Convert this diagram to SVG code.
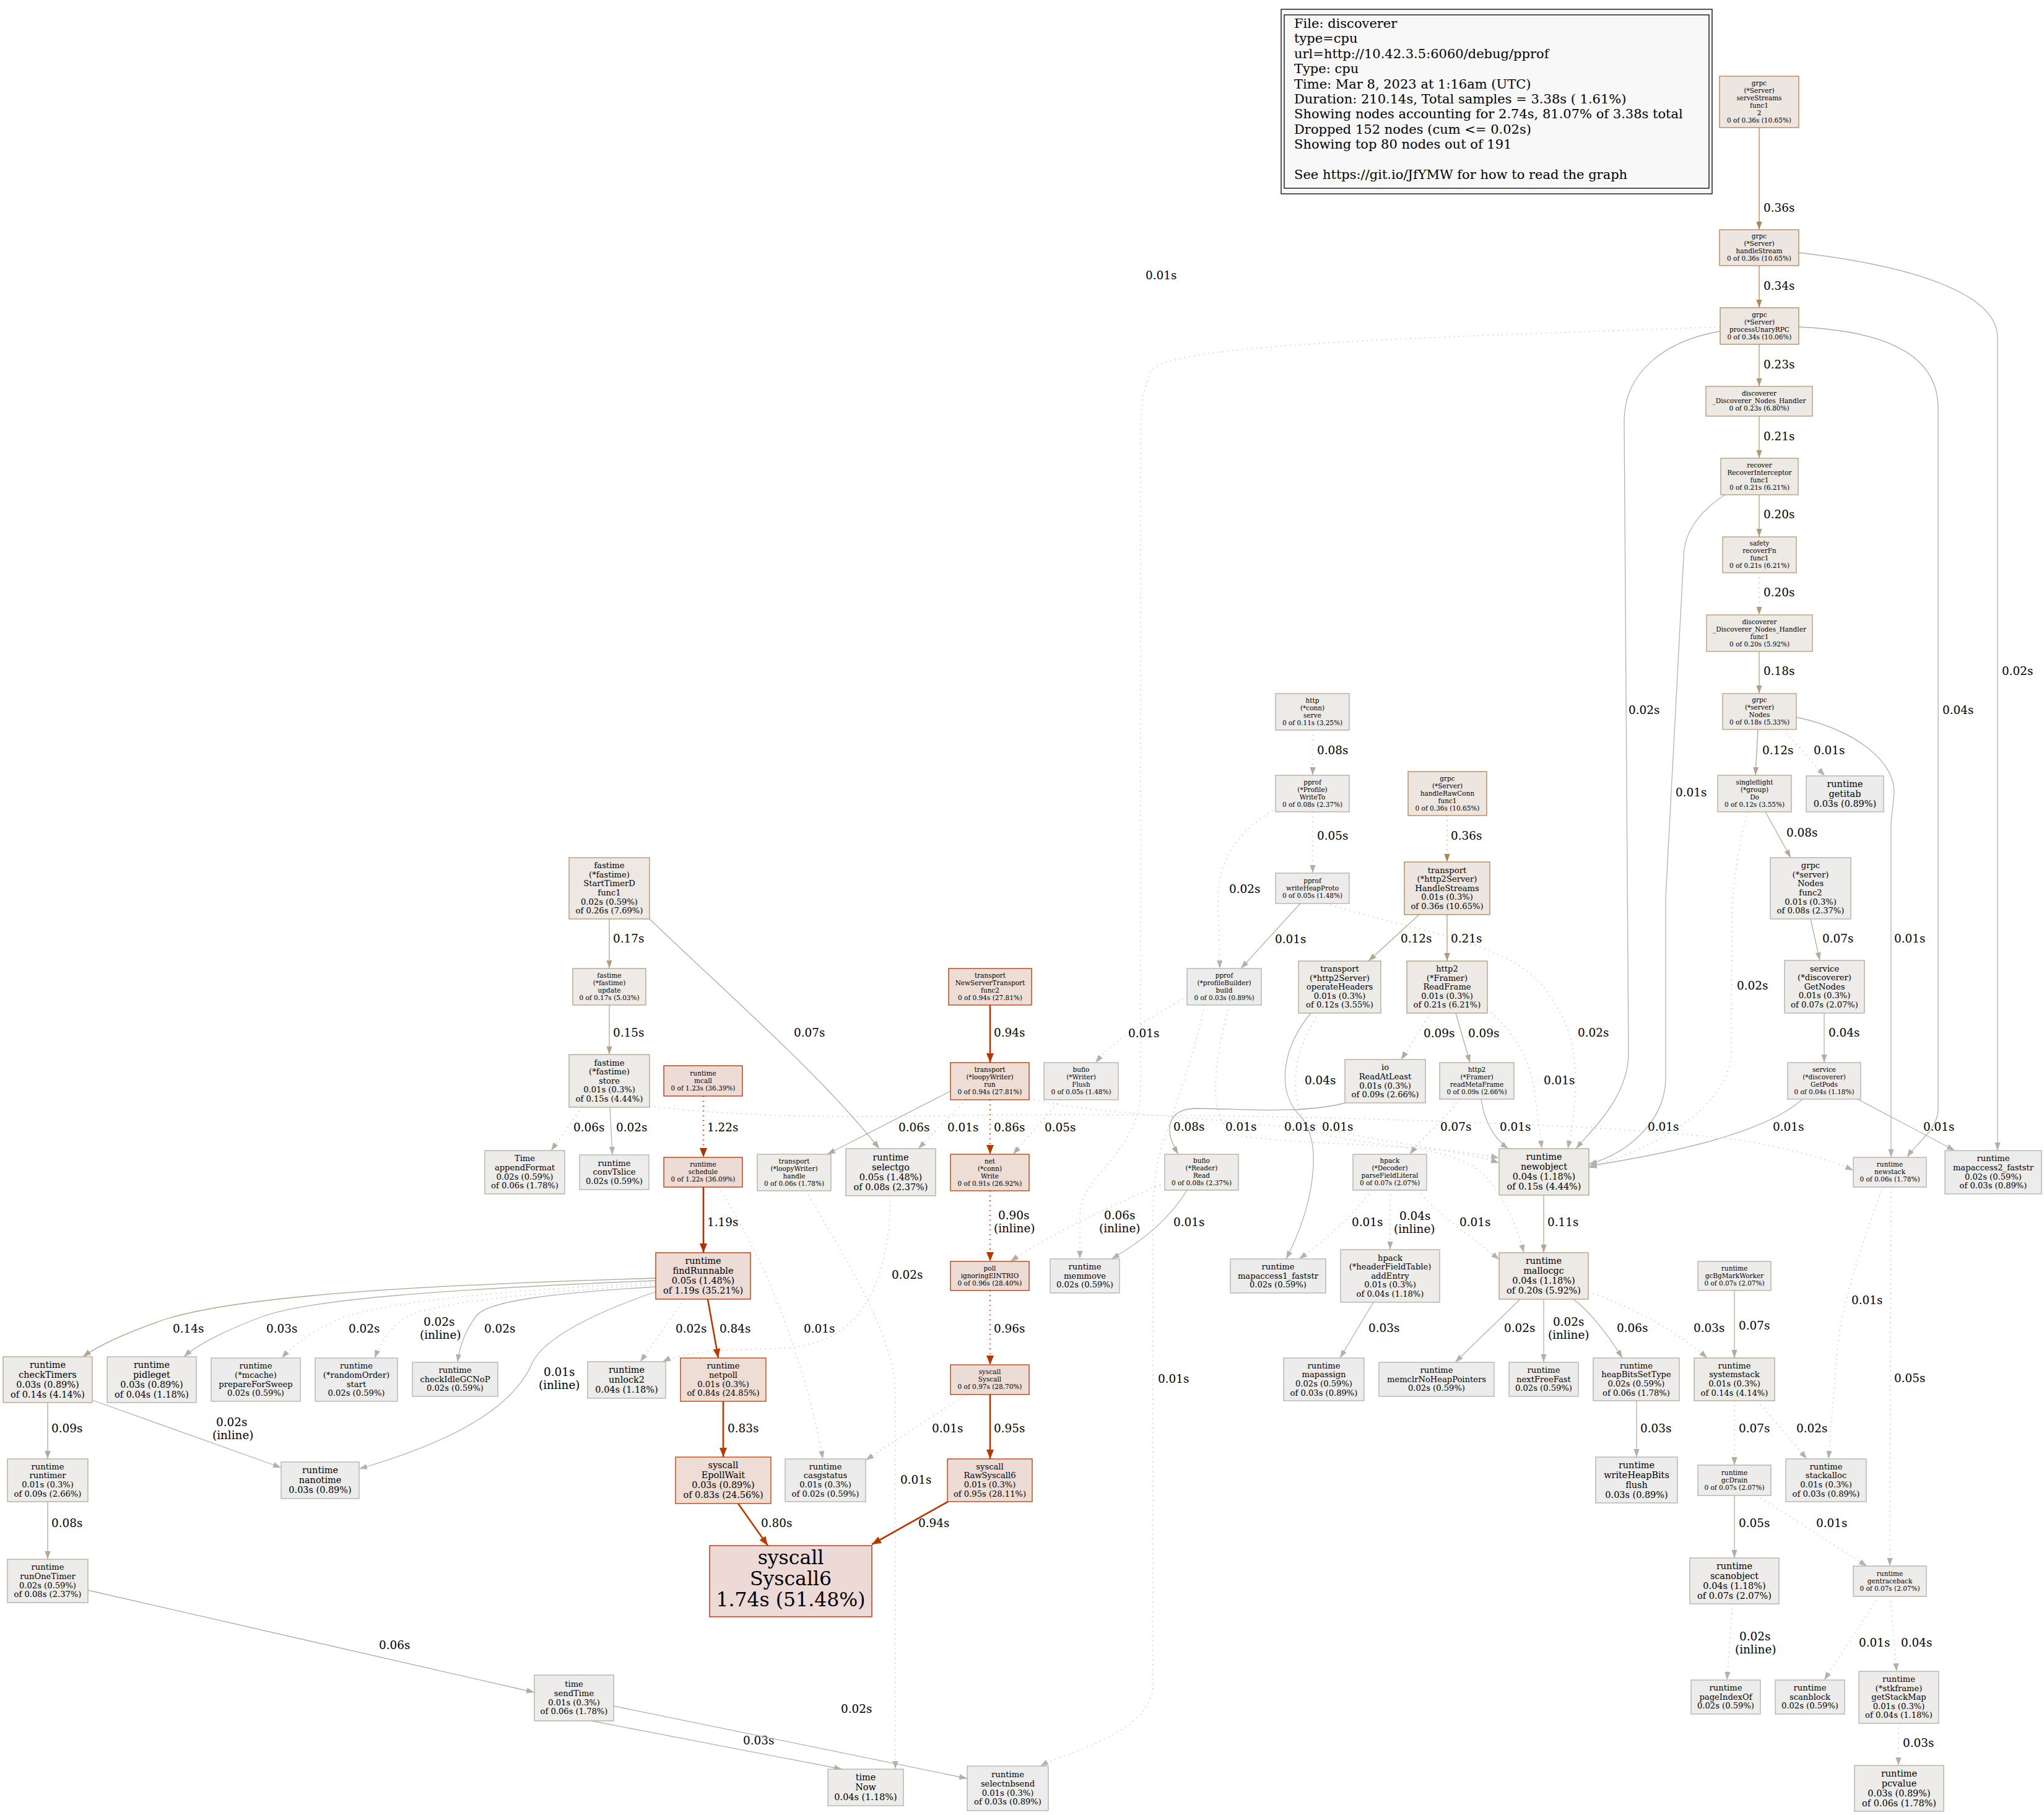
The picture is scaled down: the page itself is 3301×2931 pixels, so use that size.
<svg xmlns="http://www.w3.org/2000/svg" width="3301" height="2931" viewBox="0 0 3301 2931">
<style>
text{font-family:"DejaVu Serif","Liberation Serif",serif;fill:#000}
.nd text{text-anchor:middle}
.nd rect{stroke-width:1.3}
.t0{font-size:10.5px}
.t1{font-size:13.125px}
.t3{font-size:14.44px}
.tb{font-size:31.5px}
.el{font-size:18.375px}
.lg{font-size:21px}
.e path{fill:none;stroke-width:1.3}
.e path.w{stroke-width:2.6}
.e path.d{stroke-dasharray:1.3,6.5}
.k36{fill:#ede6e0;stroke:#b28153}.k34{fill:#ede7e1;stroke:#b28558}.k26{fill:#ede8e4;stroke:#b2926d}
.k23{fill:#ede9e5;stroke:#b29775}.k21{fill:#ede9e5;stroke:#b29a7b}.k20{fill:#edeae6;stroke:#b29b7d}
.k18{fill:#edeae6;stroke:#b29e82}.k17{fill:#edeae7;stroke:#b2a085}.k15{fill:#edebe7;stroke:#b2a28a}
.k14{fill:#edebe8;stroke:#b2a48d}.k12{fill:#edebe8;stroke:#b2a692}.k11{fill:#edebe9;stroke:#b2a895}
.k09{fill:#edecea;stroke:#b2aa9a}.k08{fill:#edecea;stroke:#b2ab9d}.k07{fill:#edecea;stroke:#b2aca0}
.k06{fill:#edeceb;stroke:#b2ada2}.k05{fill:#edeceb;stroke:#b2aea5}.k04{fill:#edeceb;stroke:#b2afa7}
.k03{fill:#edecec;stroke:#b2b0aa}.k02{fill:#edecec;stroke:#b2b1ad}
.k174{fill:#edd9d5;stroke:#b22000}.k123{fill:#eddbd5;stroke:#b22e00}.k122{fill:#eddbd5;stroke:#b22f00}
.k097{fill:#eddcd5;stroke:#b23700}.k096{fill:#eddcd5;stroke:#b23800}.k094{fill:#edddd5;stroke:#b23800}
.k091{fill:#edddd5;stroke:#b23a00}.k084{fill:#edddd5;stroke:#b23c00}.k083{fill:#edddd5;stroke:#b23d00}
</style>
<defs>
<marker id="m81" viewBox="0 0 13 10" refX="13" refY="5" markerWidth="13" markerHeight="10" markerUnits="userSpaceOnUse" orient="auto"><path d="M0,0.4L13,5L0,9.6z" fill="#b28153"/></marker>
<marker id="m85" viewBox="0 0 13 10" refX="13" refY="5" markerWidth="13" markerHeight="10" markerUnits="userSpaceOnUse" orient="auto"><path d="M0,0.4L13,5L0,9.6z" fill="#b28558"/></marker>
<marker id="m97" viewBox="0 0 13 10" refX="13" refY="5" markerWidth="13" markerHeight="10" markerUnits="userSpaceOnUse" orient="auto"><path d="M0,0.4L13,5L0,9.6z" fill="#b29775"/></marker>
<marker id="m9a" viewBox="0 0 13 10" refX="13" refY="5" markerWidth="13" markerHeight="10" markerUnits="userSpaceOnUse" orient="auto"><path d="M0,0.4L13,5L0,9.6z" fill="#b29a7b"/></marker>
<marker id="m9b" viewBox="0 0 13 10" refX="13" refY="5" markerWidth="13" markerHeight="10" markerUnits="userSpaceOnUse" orient="auto"><path d="M0,0.4L13,5L0,9.6z" fill="#b29b7d"/></marker>
<marker id="m9e" viewBox="0 0 13 10" refX="13" refY="5" markerWidth="13" markerHeight="10" markerUnits="userSpaceOnUse" orient="auto"><path d="M0,0.4L13,5L0,9.6z" fill="#b29e82"/></marker>
<marker id="ma0" viewBox="0 0 13 10" refX="13" refY="5" markerWidth="13" markerHeight="10" markerUnits="userSpaceOnUse" orient="auto"><path d="M0,0.4L13,5L0,9.6z" fill="#b2a085"/></marker>
<marker id="ma2" viewBox="0 0 13 10" refX="13" refY="5" markerWidth="13" markerHeight="10" markerUnits="userSpaceOnUse" orient="auto"><path d="M0,0.4L13,5L0,9.6z" fill="#b2a28a"/></marker>
<marker id="ma4" viewBox="0 0 13 10" refX="13" refY="5" markerWidth="13" markerHeight="10" markerUnits="userSpaceOnUse" orient="auto"><path d="M0,0.4L13,5L0,9.6z" fill="#b2a48d"/></marker>
<marker id="ma6" viewBox="0 0 13 10" refX="13" refY="5" markerWidth="13" markerHeight="10" markerUnits="userSpaceOnUse" orient="auto"><path d="M0,0.4L13,5L0,9.6z" fill="#b2a692"/></marker>
<marker id="ma8" viewBox="0 0 13 10" refX="13" refY="5" markerWidth="13" markerHeight="10" markerUnits="userSpaceOnUse" orient="auto"><path d="M0,0.4L13,5L0,9.6z" fill="#b2a895"/></marker>
<marker id="maa" viewBox="0 0 13 10" refX="13" refY="5" markerWidth="13" markerHeight="10" markerUnits="userSpaceOnUse" orient="auto"><path d="M0,0.4L13,5L0,9.6z" fill="#b2aa9a"/></marker>
<marker id="mab" viewBox="0 0 13 10" refX="13" refY="5" markerWidth="13" markerHeight="10" markerUnits="userSpaceOnUse" orient="auto"><path d="M0,0.4L13,5L0,9.6z" fill="#b2ab9d"/></marker>
<marker id="mac" viewBox="0 0 13 10" refX="13" refY="5" markerWidth="13" markerHeight="10" markerUnits="userSpaceOnUse" orient="auto"><path d="M0,0.4L13,5L0,9.6z" fill="#b2aca0"/></marker>
<marker id="mad" viewBox="0 0 13 10" refX="13" refY="5" markerWidth="13" markerHeight="10" markerUnits="userSpaceOnUse" orient="auto"><path d="M0,0.4L13,5L0,9.6z" fill="#b2ada2"/></marker>
<marker id="mae" viewBox="0 0 13 10" refX="13" refY="5" markerWidth="13" markerHeight="10" markerUnits="userSpaceOnUse" orient="auto"><path d="M0,0.4L13,5L0,9.6z" fill="#b2aea5"/></marker>
<marker id="maf" viewBox="0 0 13 10" refX="13" refY="5" markerWidth="13" markerHeight="10" markerUnits="userSpaceOnUse" orient="auto"><path d="M0,0.4L13,5L0,9.6z" fill="#b2afa7"/></marker>
<marker id="mb0" viewBox="0 0 13 10" refX="13" refY="5" markerWidth="13" markerHeight="10" markerUnits="userSpaceOnUse" orient="auto"><path d="M0,0.4L13,5L0,9.6z" fill="#b2b0aa"/></marker>
<marker id="mb1" viewBox="0 0 13 10" refX="13" refY="5" markerWidth="13" markerHeight="10" markerUnits="userSpaceOnUse" orient="auto"><path d="M0,0.4L13,5L0,9.6z" fill="#b2b1ad"/></marker>
<marker id="mb2" viewBox="0 0 13 10" refX="13" refY="5" markerWidth="13" markerHeight="10" markerUnits="userSpaceOnUse" orient="auto"><path d="M0,0.4L13,5L0,9.6z" fill="#b2b2af"/></marker>
<marker id="r2f" viewBox="0 0 15 12" refX="15" refY="6" markerWidth="15" markerHeight="12" markerUnits="userSpaceOnUse" orient="auto"><path d="M0,0L15,6L0,12z" fill="#b22f00"/></marker>
<marker id="r38" viewBox="0 0 15 12" refX="15" refY="6" markerWidth="15" markerHeight="12" markerUnits="userSpaceOnUse" orient="auto"><path d="M0,0L15,6L0,12z" fill="#b23800"/></marker>
<marker id="r3a" viewBox="0 0 15 12" refX="15" refY="6" markerWidth="15" markerHeight="12" markerUnits="userSpaceOnUse" orient="auto"><path d="M0,0L15,6L0,12z" fill="#b23a00"/></marker>
<marker id="r3c" viewBox="0 0 15 12" refX="15" refY="6" markerWidth="15" markerHeight="12" markerUnits="userSpaceOnUse" orient="auto"><path d="M0,0L15,6L0,12z" fill="#b23c00"/></marker>
<marker id="r3d" viewBox="0 0 15 12" refX="15" refY="6" markerWidth="15" markerHeight="12" markerUnits="userSpaceOnUse" orient="auto"><path d="M0,0L15,6L0,12z" fill="#b23d00"/></marker>
<marker id="r3e" viewBox="0 0 15 12" refX="15" refY="6" markerWidth="15" markerHeight="12" markerUnits="userSpaceOnUse" orient="auto"><path d="M0,0L15,6L0,12z" fill="#b23e00"/></marker>
</defs>
<rect x="0" y="0" width="3301" height="2931" fill="#ffffff"/>

<g id="legend">
<rect x="2069" y="15" width="696" height="298" fill="#f8f8f8" stroke="#000" stroke-width="1.3"/>
<rect x="2074" y="24" width="686" height="280" fill="#f8f8f8" stroke="#000" stroke-width="1.3"/>
<text class="lg" x="2090" y="45">File: discoverer</text>
<text class="lg" x="2090" y="69.4">type=cpu</text>
<text class="lg" x="2090" y="93.8">url=http://10.42.3.5:6060/debug/pprof</text>
<text class="lg" x="2090" y="118.2">Type: cpu</text>
<text class="lg" x="2090" y="142.6">Time: Mar 8, 2023 at 1:16am (UTC)</text>
<text class="lg" x="2090" y="167">Duration: 210.14s, Total samples = 3.38s ( 1.61%)</text>
<text class="lg" x="2090" y="191.4">Showing nodes accounting for 2.74s, 81.07% of 3.38s total</text>
<text class="lg" x="2090" y="215.8">Dropped 152 nodes (cum &lt;= 0.02s)</text>
<text class="lg" x="2090" y="240.2">Showing top 80 nodes out of 191</text>
<text class="lg" x="2090" y="289">See https://git.io/JfYMW for how to read the graph</text>
</g>

<g id="edges">
<g class="e" id="e1"><path d="M2841,206L2841,371" stroke="#b28153" marker-end="url(#m81)"/><text class="el" x="2848" y="342">0.36s</text></g>
<g class="e" id="e2"><path d="M2841,429L2841,497" stroke="#b28558" marker-end="url(#m85)"/><text class="el" x="2848" y="468">0.34s</text></g>
<g class="e" id="e3"><path d="M2841,556L2841,624" stroke="#b29775" marker-end="url(#m97)"/><text class="el" x="2848" y="595">0.23s</text></g>
<g class="e" id="e4"><path d="M2841,672L2841,740" stroke="#b29a7b" marker-end="url(#m9a)"/><text class="el" x="2848" y="711">0.21s</text></g>
<g class="e" id="e5"><path d="M2841,799L2841,867" stroke="#b29b7d" marker-end="url(#m9b)"/><text class="el" x="2848" y="837">0.20s</text></g>
<g class="e" id="e6"><path class="d" d="M2841,925L2841,993" stroke="#b29b7d" marker-end="url(#m9b)"/><text class="el" x="2848" y="963">0.20s</text></g>
<g class="e" id="e7"><path d="M2841,1052L2841,1120" stroke="#b29e82" marker-end="url(#m9e)"/><text class="el" x="2848" y="1090">0.18s</text></g>
<g class="e" id="e8"><path d="M2839,1178L2835,1252" stroke="#b2a692" marker-end="url(#ma6)"/><text class="el" x="2846" y="1218">0.12s</text></g>
<g class="e" id="e9"><path class="d" d="M2880,1178L2947,1253" stroke="#b2b2af" marker-end="url(#mb2)"/><text class="el" x="2929" y="1218">0.01s</text></g>
<g class="e" id="e10"><path d="M2851,1311L2892,1385" stroke="#b2ab9d" marker-end="url(#mab)"/><text class="el" x="2885" y="1351">0.08s</text></g>
<g class="e" id="e11"><path d="M2924,1484L2939,1551" stroke="#b2aca0" marker-end="url(#mac)"/><text class="el" x="2943" y="1522">0.07s</text></g>
<g class="e" id="e12"><path d="M2946,1636L2946,1716" stroke="#b2afa7" marker-end="url(#maf)"/><text class="el" x="2953" y="1674">0.04s</text></g>
<g class="e" id="e13"><path d="M2905,408C3110,432 3226,480 3226,545L3226,1858" stroke="#b2b1ad" marker-end="url(#mb1)"/><text class="el" x="3233" y="1090">0.02s</text></g>
<g class="e" id="e14"><path d="M2905,528C3060,535 3130,580 3130,660L3130,1790C3130,1825 3095,1845 3080,1869" stroke="#b2afa7" marker-end="url(#maf)"/><text class="el" x="3137" y="1153">0.04s</text></g>
<g class="e" id="e15"><path d="M2778,535C2690,550 2623,600 2623,680L2630,1700C2630,1770 2575,1820 2545,1855" stroke="#b2b1ad" marker-end="url(#mb1)"/><text class="el" x="2630" y="1153">0.02s</text></g>
<g class="e" id="e16"><path d="M2786,799C2745,825 2719,860 2719,900L2690,1450L2690,1740C2690,1810 2630,1862 2566,1880" stroke="#b2b2af" marker-end="url(#mb2)"/><text class="el" x="2706" y="1286">0.01s</text></g>
<g class="e" id="e17"><path d="M2901,1158C3000,1180 3059,1230 3059,1280L3054,1330L3054,1869" stroke="#b2b2af" marker-end="url(#mb2)"/><text class="el" x="3059" y="1522">0.01s</text></g>
<g class="e" id="e18"><path class="d" d="M2822,1311C2800,1400 2797,1450 2797,1500L2796,1700C2790,1800 2650,1860 2566,1886" stroke="#b2b1ad" marker-end="url(#mb1)"/><text class="el" x="2805" y="1598">0.02s</text></g>
<g class="e" id="e19"><path d="M2911,1775C2850,1830 2700,1862 2566,1883" stroke="#b2b2af" marker-end="url(#mb2)"/><text class="el" x="2863" y="1826">0.01s</text></g>
<g class="e" id="e20"><path d="M3000,1775L3157,1858" stroke="#b2b2af" marker-end="url(#mb2)"/><text class="el" x="3106" y="1826">0.01s</text></g>
<g class="e" id="e21"><path class="d" d="M2778,528C2300,545 1880,555 1858,600C1846,630 1842,660 1842,700L1842,1760C1842,1860 1744,1900 1744,1960L1744,2033" stroke="#b2b2af" marker-end="url(#mb2)"/><text class="el" x="1850" y="451">0.01s</text></g>
<g class="e" id="e22"><path class="d" d="M1945,1623C1930,1700 1900,1780 1880,1840C1866,1880 1862,1920 1862,1980L1862,2720C1862,2800 1720,2830 1680,2852" stroke="#b2b2af" marker-end="url(#mb2)"/><text class="el" x="1870" y="2233">0.01s</text></g>
<g class="e" id="e23"><path class="d" d="M1985,1623C1960,1720 1950,1800 1990,1832C2080,1850 2300,1845 2421,1870" stroke="#b2b2af" marker-end="url(#mb2)"/><text class="el" x="1979" y="1826">0.01s</text></g>
<g class="e" id="e24"><path class="d" d="M1917,1610C1860,1640 1800,1680 1769,1716" stroke="#b2b2af" marker-end="url(#mb2)"/><text class="el" x="1822" y="1675">0.01s</text></g>
<g class="e" id="e25"><path class="d" d="M2062,1305C2000,1340 1967,1390 1967,1450L1970,1564" stroke="#b2b1ad" marker-end="url(#mb1)"/><text class="el" x="1985" y="1442">0.02s</text></g>
<g class="e" id="e26"><path d="M2100,1459L2004,1564" stroke="#b2b2af" marker-end="url(#mb2)"/><text class="el" x="2059" y="1523">0.01s</text></g>
<g class="e" id="e27"><path class="d" d="M2142,1459C2300,1510 2460,1520 2510,1620C2560,1690 2545,1790 2532,1855" stroke="#b2b1ad" marker-end="url(#mb1)"/><text class="el" x="2548" y="1674">0.02s</text></g>
<g class="e" id="e28"><path class="d" d="M2120,1179L2120,1252" stroke="#b2ab9d" marker-end="url(#mab)"/><text class="el" x="2127" y="1218">0.08s</text></g>
<g class="e" id="e29"><path class="d" d="M2120,1311L2120,1410" stroke="#b2aea5" marker-end="url(#mae)"/><text class="el" x="2127" y="1356">0.05s</text></g>
<g class="e" id="e30"><path class="d" d="M2337,1317L2337,1392" stroke="#b28153" marker-end="url(#m81)"/><text class="el" x="2343" y="1356">0.36s</text></g>
<g class="e" id="e31"><path d="M2292,1477L2210,1552" stroke="#b2a692" marker-end="url(#ma6)"/><text class="el" x="2262" y="1522">0.12s</text></g>
<g class="e" id="e32"><path d="M2337,1477L2337,1552" stroke="#b29a7b" marker-end="url(#m9a)"/><text class="el" x="2343" y="1522">0.21s</text></g>
<g class="e" id="e33"><path class="d" d="M2310,1636L2263,1711" stroke="#b2aa9a" marker-end="url(#maa)"/><text class="el" x="2299" y="1675">0.09s</text></g>
<g class="e" id="e34"><path d="M2351,1636L2374,1716" stroke="#b2aa9a" marker-end="url(#maa)"/><text class="el" x="2371" y="1675">0.09s</text></g>
<g class="e" id="e35"><path class="d" d="M2402,1630C2445,1665 2470,1710 2478,1760L2490,1855" stroke="#b2b2af" marker-end="url(#mb2)"/><text class="el" x="2493" y="1751">0.01s</text></g>
<g class="e" id="e36"><path d="M2173,1781C2100,1800 2000,1790 1930,1790C1880,1792 1882,1830 1903,1864" stroke="#b2ab9d" marker-end="url(#mab)"/><text class="el" x="1895" y="1826">0.08s</text></g>
<g class="e" id="e37"><path class="d" d="M2357,1775C2330,1810 2295,1840 2277,1864" stroke="#b2aca0" marker-end="url(#mac)"/><text class="el" x="2326" y="1826">0.07s</text></g>
<g class="e" id="e38"><path d="M2392,1775C2398,1815 2415,1840 2436,1855" stroke="#b2b2af" marker-end="url(#mb2)"/><text class="el" x="2422" y="1826">0.01s</text></g>
<g class="e" id="e39"><path class="d" d="M2130,1636C2092,1690 2080,1760 2105,1805C2150,1840 2330,1848 2421,1878" stroke="#b2afa7" marker-end="url(#maf)"/><text class="el" x="2107" y="1751">0.04s</text></g>
<g class="e" id="e40"><path d="M2117,1636C2072,1690 2060,1760 2098,1800C2140,1845 2120,1950 2077,2033" stroke="#b2b2af" marker-end="url(#mb2)"/><text class="el" x="2135" y="1826">0.01s</text></g>
<g class="e" id="e41"><path class="d" d="M1662,1774C1780,1805 2050,1805 2150,1835C2250,1855 2350,1850 2400,1900C2430,1935 2450,1980 2461,2023" stroke="#b2b2af" marker-end="url(#mb2)"/><text class="el" x="2074" y="1826">0.01s</text></g>
<g class="e" id="e42"><path class="d" d="M2215,1922C2180,1970 2130,2010 2098,2033" stroke="#b2b2af" marker-end="url(#mb2)"/><text class="el" x="2183" y="1980">0.01s</text></g>
<g class="e" id="e43"><path class="d" d="M2245,1922L2245,2018" stroke="#b2afa7" marker-end="url(#maf)"/><text class="el" x="2260" y="1970">0.04s</text><text class="el" x="2251" y="1991">(inline)</text></g>
<g class="e" id="e44"><path class="d" d="M2290,1922C2320,1960 2380,2000 2421,2034" stroke="#b2b2af" marker-end="url(#mb2)"/><text class="el" x="2357" y="1980">0.01s</text></g>
<g class="e" id="e45"><path d="M2493,1930L2493,2023" stroke="#b2a895" marker-end="url(#ma8)"/><text class="el" x="2499" y="1980">0.11s</text></g>
<g class="e" id="e46"><path d="M2218,2103L2164,2193" stroke="#b2b0aa" marker-end="url(#mb0)"/><text class="el" x="2210" y="2151">0.03s</text></g>
<g class="e" id="e47"><path d="M2455,2098L2350,2200" stroke="#b2b1ad" marker-end="url(#mb1)"/><text class="el" x="2429" y="2151">0.02s</text></g>
<g class="e" id="e48"><path d="M2493,2098L2493,2200" stroke="#b2b1ad" marker-end="url(#mb1)"/><text class="el" x="2508" y="2141">0.02s</text><text class="el" x="2500" y="2162">(inline)</text></g>
<g class="e" id="e49"><path d="M2541,2098C2570,2120 2600,2160 2620,2193" stroke="#b2ada2" marker-end="url(#mad)"/><text class="el" x="2611" y="2151">0.06s</text></g>
<g class="e" id="e50"><path class="d" d="M2565,2086C2650,2115 2720,2160 2757,2193" stroke="#b2b0aa" marker-end="url(#mb0)"/><text class="el" x="2735" y="2151">0.03s</text></g>
<g class="e" id="e51"><path d="M2801,2084L2801,2193" stroke="#b2aca0" marker-end="url(#mac)"/><text class="el" x="2808" y="2147">0.07s</text></g>
<g class="e" id="e52"><path d="M2643,2262L2643,2353" stroke="#b2b0aa" marker-end="url(#mb0)"/><text class="el" x="2649" y="2313">0.03s</text></g>
<g class="e" id="e53"><path class="d" d="M2801,2262L2801,2366" stroke="#b2aca0" marker-end="url(#mac)"/><text class="el" x="2808" y="2313">0.07s</text></g>
<g class="e" id="e54"><path class="d" d="M2838,2262L2918,2356" stroke="#b2b1ad" marker-end="url(#mb1)"/><text class="el" x="2901" y="2313">0.02s</text></g>
<g class="e" id="e55"><path class="d" d="M3041,1917C3010,2000 2975,2100 2967,2180L2953,2356" stroke="#b2b2af" marker-end="url(#mb2)"/><text class="el" x="2990" y="2106">0.01s</text></g>
<g class="e" id="e56"><path class="d" d="M3054,1917L3052,2529" stroke="#b2aea5" marker-end="url(#mae)"/><text class="el" x="3059" y="2232">0.05s</text></g>
<g class="e" id="e57"><path d="M2801,2415L2801,2516" stroke="#b2aea5" marker-end="url(#mae)"/><text class="el" x="2808" y="2466">0.05s</text></g>
<g class="e" id="e58"><path class="d" d="M2837,2415L3015,2529" stroke="#b2b2af" marker-end="url(#mb2)"/><text class="el" x="2933" y="2466">0.01s</text></g>
<g class="e" id="e59"><path class="d" d="M2798,2590L2789,2713" stroke="#b2b1ad" marker-end="url(#mb1)"/><text class="el" x="2809" y="2649">0.02s</text><text class="el" x="2802" y="2670">(inline)</text></g>
<g class="e" id="e60"><path class="d" d="M3035,2578L2946,2713" stroke="#b2b2af" marker-end="url(#mb2)"/><text class="el" x="3002" y="2659">0.01s</text></g>
<g class="e" id="e61"><path class="d" d="M3053,2578L3063,2699" stroke="#b2afa7" marker-end="url(#maf)"/><text class="el" x="3070" y="2659">0.04s</text></g>
<g class="e" id="e62"><path class="d" d="M3066,2783L3066,2851" stroke="#b2b0aa" marker-end="url(#mb0)"/><text class="el" x="3073" y="2821">0.03s</text></g>
<g class="e" id="e63"><path d="M984,1484L984,1564" stroke="#b2a085" marker-end="url(#ma0)"/><text class="el" x="990" y="1522">0.17s</text></g>
<g class="e" id="e64"><path d="M984,1623L984,1703" stroke="#b2a28a" marker-end="url(#ma2)"/><text class="el" x="990" y="1674">0.15s</text></g>
<g class="e" id="e65"><path d="M1049,1484C1180,1610 1330,1740 1420,1855" stroke="#b2aca0" marker-end="url(#mac)"/><text class="el" x="1282" y="1674">0.07s</text></g>
<g class="e" id="e66"><path class="d" d="M940,1788L890,1858" stroke="#b2ada2" marker-end="url(#mad)"/><text class="el" x="926" y="1827">0.06s</text></g>
<g class="e" id="e67"><path d="M985,1788L989,1865" stroke="#b2b1ad" marker-end="url(#mb1)"/><text class="el" x="995" y="1827">0.02s</text></g>
<g class="e" id="e68"><path class="d w" d="M1136,1770L1136,1869" stroke="#b22f00" marker-end="url(#r2f)"/><text class="el" x="1142" y="1827">1.22s</text></g>
<g class="e" id="e69"><path class="w" d="M1136,1917L1136,2023" stroke="#b22f00" marker-end="url(#r2f)"/><text class="el" x="1142" y="1980">1.19s</text></g>
<g class="e" id="e70"><path class="w" d="M1599,1623L1599,1716" stroke="#b23800" marker-end="url(#r38)"/><text class="el" x="1605" y="1674">0.94s</text></g>
<g class="e" id="e71"><path d="M1535,1762L1336,1864" stroke="#b2ada2" marker-end="url(#mad)"/><text class="el" x="1451" y="1827">0.06s</text></g>
<g class="e" id="e72"><path class="d" d="M1560,1776L1483,1855" stroke="#b2b2af" marker-end="url(#mb2)"/><text class="el" x="1530" y="1827">0.01s</text></g>
<g class="e" id="e73"><path class="d w" d="M1599,1776L1599,1864" stroke="#b23c00" marker-end="url(#r3c)"/><text class="el" x="1605" y="1827">0.86s</text></g>
<g class="e" id="e74"><path class="d" d="M1712,1776L1636,1864" stroke="#b2aea5" marker-end="url(#mae)"/><text class="el" x="1687" y="1827">0.05s</text></g>
<g class="e" id="e75"><path class="d w" d="M1599,1923L1599,2037" stroke="#b23a00" marker-end="url(#r3a)"/><text class="el" x="1612" y="1969">0.90s</text><text class="el" x="1605" y="1990">(inline)</text></g>
<g class="e" id="e76"><path class="d" d="M1881,1910C1800,1945 1700,1990 1632,2037" stroke="#b2ada2" marker-end="url(#mad)"/><text class="el" x="1783" y="1969">0.06s</text><text class="el" x="1775" y="1990">(inline)</text></g>
<g class="e" id="e77"><path d="M1917,1922C1885,1975 1835,2010 1795,2033" stroke="#b2b2af" marker-end="url(#mb2)"/><text class="el" x="1895" y="1980">0.01s</text></g>
<g class="e" id="e78"><path class="d w" d="M1599,2084L1599,2204" stroke="#b23800" marker-end="url(#r38)"/><text class="el" x="1605" y="2152">0.96s</text></g>
<g class="e" id="e79"><path class="w" d="M1599,2252L1599,2356" stroke="#b23800" marker-end="url(#r38)"/><text class="el" x="1605" y="2313">0.95s</text></g>
<g class="e" id="e80"><path class="d" d="M1560,2252L1398,2358" stroke="#b2b2af" marker-end="url(#mb2)"/><text class="el" x="1505" y="2313">0.01s</text></g>
<g class="e" id="e81"><path class="w" d="M1531,2425L1408,2494" stroke="#b23800" marker-end="url(#r38)"/><text class="el" x="1483" y="2466">0.94s</text></g>
<g class="e" id="e82"><path class="d" d="M1160,1917C1240,2040 1300,2200 1329,2356" stroke="#b2b2af" marker-end="url(#mb2)"/><text class="el" x="1298" y="2152">0.01s</text></g>
<g class="e" id="e83"><path class="d" d="M1438,1931C1438,2000 1425,2060 1400,2102C1370,2150 1330,2175 1250,2178C1150,2180 1100,2185 1070,2199" stroke="#b2b1ad" marker-end="url(#mb1)"/><text class="el" x="1440" y="2065">0.02s</text></g>
<g class="e" id="e84"><path class="d" d="M1302,1923C1350,2010 1446,2150 1446,2250L1446,2857" stroke="#b2b2af" marker-end="url(#mb2)"/><text class="el" x="1454" y="2396">0.01s</text></g>
<g class="e" id="e85"><path d="M1059,2064C700,2075 400,2090 268,2130C210,2150 160,2172 134,2191" stroke="#b2a48d" marker-end="url(#ma4)"/><text class="el" x="279" y="2152">0.14s</text></g>
<g class="e" id="e86"><path d="M1059,2068C720,2082 500,2098 424,2126C370,2146 320,2170 297,2191" stroke="#b2b0aa" marker-end="url(#mb0)"/><text class="el" x="430" y="2152">0.03s</text></g>
<g class="e" id="e87"><path class="d" d="M1059,2071C800,2085 650,2100 560,2125C510,2145 475,2170 455,2193" stroke="#b2b1ad" marker-end="url(#mb1)"/><text class="el" x="563" y="2152">0.02s</text></g>
<g class="e" id="e88"><path class="d" d="M1059,2074C880,2088 700,2100 650,2130C625,2150 612,2175 605,2193" stroke="#b2b1ad" marker-end="url(#mb1)"/><text class="el" x="684" y="2141">0.02s</text><text class="el" x="678" y="2162">(inline)</text></g>
<g class="e" id="e89"><path d="M1059,2078C900,2088 790,2100 770,2124C750,2150 742,2175 739,2200" stroke="#b2b1ad" marker-end="url(#mb1)"/><text class="el" x="782" y="2152">0.02s</text></g>
<g class="e" id="e90"><path d="M1059,2086C960,2120 880,2160 860,2200C835,2260 760,2320 580,2372" stroke="#b2b2af" marker-end="url(#mb2)"/><text class="el" x="878" y="2222">0.01s</text><text class="el" x="870" y="2243">(inline)</text></g>
<g class="e" id="e91"><path class="d" d="M1105,2098L1034,2199" stroke="#b2b1ad" marker-end="url(#mb1)"/><text class="el" x="1091" y="2152">0.02s</text></g>
<g class="e" id="e92"><path class="w" d="M1143,2098L1160,2193" stroke="#b23c00" marker-end="url(#r3c)"/><text class="el" x="1162" y="2152">0.84s</text></g>
<g class="e" id="e93"><path class="w" d="M1168,2263L1168,2353" stroke="#b23d00" marker-end="url(#r3d)"/><text class="el" x="1175" y="2313">0.83s</text></g>
<g class="e" id="e94"><path class="w" d="M1192,2428L1240,2496" stroke="#b23e00" marker-end="url(#r3e)"/><text class="el" x="1229" y="2466">0.80s</text></g>
<g class="e" id="e95"><path d="M77,2265L77,2356" stroke="#b2aa9a" marker-end="url(#maa)"/><text class="el" x="83" y="2313">0.09s</text></g>
<g class="e" id="e96"><path d="M149,2261L454,2370" stroke="#b2b1ad" marker-end="url(#mb1)"/><text class="el" x="349" y="2303">0.02s</text><text class="el" x="343" y="2324">(inline)</text></g>
<g class="e" id="e97"><path d="M77,2425L77,2518" stroke="#b2ab9d" marker-end="url(#mab)"/><text class="el" x="83" y="2466">0.08s</text></g>
<g class="e" id="e98"><path d="M142,2568L863,2733" stroke="#b2ada2" marker-end="url(#mad)"/><text class="el" x="612" y="2663">0.06s</text></g>
<g class="e" id="e99"><path d="M955,2779L1360,2857" stroke="#b2b0aa" marker-end="url(#mb0)"/><text class="el" x="1200" y="2817">0.03s</text></g>
<g class="e" id="e100"><path d="M991,2755L1562,2872" stroke="#b2b1ad" marker-end="url(#mb1)"/><text class="el" x="1358" y="2766">0.02s</text></g>
<g class="e" id="e102"><path class="d" d="M1049,1786C1250,1812 1500,1800 1700,1800C2100,1800 2600,1815 2800,1840C2900,1855 2960,1875 2993,1890" stroke="#b2b2af" marker-end="url(#mb2)"/><text class="el" x="2661" y="1826">0.01s</text></g>
</g>

<g id="nodes">
<g class="nd" id="n-serveStreams"><rect class="k36" x="2777" y="123" width="128" height="83"/><text class="t0" y="137.9"><tspan x="2841">grpc</tspan><tspan x="2841" dy="12">(*Server)</tspan><tspan x="2841" dy="12">serveStreams</tspan><tspan x="2841" dy="12">func1</tspan><tspan x="2841" dy="12">2</tspan><tspan x="2841" dy="12">0 of 0.36s (10.65%)</tspan></text></g>
<g class="nd" id="n-handleStream"><rect class="k36" x="2777" y="371" width="128" height="58"/><text class="t0" y="385.4"><tspan x="2841">grpc</tspan><tspan x="2841" dy="12">(*Server)</tspan><tspan x="2841" dy="12">handleStream</tspan><tspan x="2841" dy="12">0 of 0.36s (10.65%)</tspan></text></g>
<g class="nd" id="n-processUnaryRPC"><rect class="k34" x="2778" y="497" width="127" height="59"/><text class="t0" y="511.9"><tspan x="2841.5">grpc</tspan><tspan x="2841.5" dy="12">(*Server)</tspan><tspan x="2841.5" dy="12">processUnaryRPC</tspan><tspan x="2841.5" dy="12">0 of 0.34s (10.06%)</tspan></text></g>
<g class="nd" id="n-DNH"><rect class="k23" x="2755" y="624" width="172" height="48"/><text class="t0" y="639.4"><tspan x="2841">discoverer</tspan><tspan x="2841" dy="12">_Discoverer_Nodes_Handler</tspan><tspan x="2841" dy="12">0 of 0.23s (6.80%)</tspan></text></g>
<g class="nd" id="n-recover"><rect class="k21" x="2779" y="740" width="125" height="59"/><text class="t0" y="754.9"><tspan x="2841.5">recover</tspan><tspan x="2841.5" dy="12">RecoverInterceptor</tspan><tspan x="2841.5" dy="12">func1</tspan><tspan x="2841.5" dy="12">0 of 0.21s (6.21%)</tspan></text></g>
<g class="nd" id="n-safety"><rect class="k21" x="2782" y="867" width="119" height="58"/><text class="t0" y="881.4"><tspan x="2841.5">safety</tspan><tspan x="2841.5" dy="12">recoverFn</tspan><tspan x="2841.5" dy="12">func1</tspan><tspan x="2841.5" dy="12">0 of 0.21s (6.21%)</tspan></text></g>
<g class="nd" id="n-DNHfunc1"><rect class="k20" x="2756" y="993" width="171" height="59"/><text class="t0" y="1007.9"><tspan x="2841.5">discoverer</tspan><tspan x="2841.5" dy="12">_Discoverer_Nodes_Handler</tspan><tspan x="2841.5" dy="12">func1</tspan><tspan x="2841.5" dy="12">0 of 0.20s (5.92%)</tspan></text></g>
<g class="nd" id="n-Nodes"><rect class="k18" x="2782" y="1120" width="119" height="58"/><text class="t0" y="1134.4"><tspan x="2841.5">grpc</tspan><tspan x="2841.5" dy="12">(*server)</tspan><tspan x="2841.5" dy="12">Nodes</tspan><tspan x="2841.5" dy="12">0 of 0.18s (5.33%)</tspan></text></g>
<g class="nd" id="n-Do"><rect class="k12" x="2774" y="1252" width="119" height="59"/><text class="t0" y="1266.9"><tspan x="2833.5">singleflight</tspan><tspan x="2833.5" dy="12">(*group)</tspan><tspan x="2833.5" dy="12">Do</tspan><tspan x="2833.5" dy="12">0 of 0.12s (3.55%)</tspan></text></g>
<g class="nd" id="n-getitab"><rect class="k03" x="2917" y="1253" width="125" height="58"/><text class="t3" y="1270.5"><tspan x="2979.5">runtime</tspan><tspan x="2979.5" dy="16.1">getitab</tspan><tspan x="2979.5" dy="16.1">0.03s (0.89%)</tspan></text></g>
<g class="nd" id="n-Nodesfunc2"><rect class="k08" x="2859" y="1385" width="130" height="99"/><text class="t1" y="1402.2"><tspan x="2924">grpc</tspan><tspan x="2924" dy="14.6">(*server)</tspan><tspan x="2924" dy="14.6">Nodes</tspan><tspan x="2924" dy="14.6">func2</tspan><tspan x="2924" dy="14.6">0.01s (0.3%)</tspan><tspan x="2924" dy="14.6">of 0.08s (2.37%)</tspan></text></g>
<g class="nd" id="n-GetNodes"><rect class="k07" x="2882" y="1551" width="129" height="85"/><text class="t1" y="1568.5"><tspan x="2946.5">service</tspan><tspan x="2946.5" dy="14.6">(*discoverer)</tspan><tspan x="2946.5" dy="14.6">GetNodes</tspan><tspan x="2946.5" dy="14.6">0.01s (0.3%)</tspan><tspan x="2946.5" dy="14.6">of 0.07s (2.07%)</tspan></text></g>
<g class="nd" id="n-GetPods"><rect class="k04" x="2887" y="1716" width="118" height="59"/><text class="t0" y="1730.9"><tspan x="2946">service</tspan><tspan x="2946" dy="12">(*discoverer)</tspan><tspan x="2946" dy="12">GetPods</tspan><tspan x="2946" dy="12">0 of 0.04s (1.18%)</tspan></text></g>
<g class="nd" id="n-newobject"><rect class="k15" x="2421" y="1855" width="145" height="75"/><text class="t3" y="1873"><tspan x="2493.5">runtime</tspan><tspan x="2493.5" dy="16.1">newobject</tspan><tspan x="2493.5" dy="16.1">0.04s (1.18%)</tspan><tspan x="2493.5" dy="16.1">of 0.15s (4.44%)</tspan></text></g>
<g class="nd" id="n-newstack"><rect class="k06" x="2993" y="1869" width="118" height="48"/><text class="t0" y="1884.4"><tspan x="3052">runtime</tspan><tspan x="3052" dy="12">newstack</tspan><tspan x="3052" dy="12">0 of 0.06s (1.78%)</tspan></text></g>
<g class="nd" id="n-mapaccess2"><rect class="k03" x="3141" y="1858" width="156" height="70"/><text class="t1" y="1875.3"><tspan x="3219">runtime</tspan><tspan x="3219" dy="14.6">mapaccess2_faststr</tspan><tspan x="3219" dy="14.6">0.02s (0.59%)</tspan><tspan x="3219" dy="14.6">of 0.03s (0.89%)</tspan></text></g>
<g class="nd" id="n-httpserve"><rect class="k11" x="2060" y="1120" width="119" height="59"/><text class="t0" y="1134.9"><tspan x="2119.5">http</tspan><tspan x="2119.5" dy="12">(*conn)</tspan><tspan x="2119.5" dy="12">serve</tspan><tspan x="2119.5" dy="12">0 of 0.11s (3.25%)</tspan></text></g>
<g class="nd" id="n-WriteTo"><rect class="k08" x="2060" y="1252" width="119" height="59"/><text class="t0" y="1266.9"><tspan x="2119.5">pprof</tspan><tspan x="2119.5" dy="12">(*Profile)</tspan><tspan x="2119.5" dy="12">WriteTo</tspan><tspan x="2119.5" dy="12">0 of 0.08s (2.37%)</tspan></text></g>
<g class="nd" id="n-writeHeapProto"><rect class="k05" x="2060" y="1410" width="119" height="49"/><text class="t0" y="1425.9"><tspan x="2119.5">pprof</tspan><tspan x="2119.5" dy="12">writeHeapProto</tspan><tspan x="2119.5" dy="12">0 of 0.05s (1.48%)</tspan></text></g>
<g class="nd" id="n-handleRawConn"><rect class="k36" x="2274" y="1246" width="127" height="71"/><text class="t0" y="1260.9"><tspan x="2337.5">grpc</tspan><tspan x="2337.5" dy="12">(*Server)</tspan><tspan x="2337.5" dy="12">handleRawConn</tspan><tspan x="2337.5" dy="12">func1</tspan><tspan x="2337.5" dy="12">0 of 0.36s (10.65%)</tspan></text></g>
<g class="nd" id="n-HandleStreams"><rect class="k36" x="2268" y="1392" width="138" height="85"/><text class="t1" y="1409.5"><tspan x="2337">transport</tspan><tspan x="2337" dy="14.6">(*http2Server)</tspan><tspan x="2337" dy="14.6">HandleStreams</tspan><tspan x="2337" dy="14.6">0.01s (0.3%)</tspan><tspan x="2337" dy="14.6">of 0.36s (10.65%)</tspan></text></g>
<g class="nd" id="n-operateHeaders"><rect class="k12" x="2097" y="1552" width="133" height="84"/><text class="t1" y="1569"><tspan x="2163.5">transport</tspan><tspan x="2163.5" dy="14.6">(*http2Server)</tspan><tspan x="2163.5" dy="14.6">operateHeaders</tspan><tspan x="2163.5" dy="14.6">0.01s (0.3%)</tspan><tspan x="2163.5" dy="14.6">of 0.12s (3.55%)</tspan></text></g>
<g class="nd" id="n-ReadFrame"><rect class="k21" x="2272" y="1552" width="130" height="84"/><text class="t1" y="1569"><tspan x="2337">http2</tspan><tspan x="2337" dy="14.6">(*Framer)</tspan><tspan x="2337" dy="14.6">ReadFrame</tspan><tspan x="2337" dy="14.6">0.01s (0.3%)</tspan><tspan x="2337" dy="14.6">of 0.21s (6.21%)</tspan></text></g>
<g class="nd" id="n-build"><rect class="k03" x="1917" y="1564" width="120" height="59"/><text class="t0" y="1578.9"><tspan x="1977">pprof</tspan><tspan x="1977" dy="12">(*profileBuilder)</tspan><tspan x="1977" dy="12">build</tspan><tspan x="1977" dy="12">0 of 0.03s (0.89%)</tspan></text></g>
<g class="nd" id="n-ReadAtLeast"><rect class="k09" x="2172" y="1711" width="130" height="70"/><text class="t1" y="1728.3"><tspan x="2237">io</tspan><tspan x="2237" dy="14.6">ReadAtLeast</tspan><tspan x="2237" dy="14.6">0.01s (0.3%)</tspan><tspan x="2237" dy="14.6">of 0.09s (2.66%)</tspan></text></g>
<g class="nd" id="n-readMetaFrame"><rect class="k09" x="2325" y="1716" width="120" height="59"/><text class="t0" y="1730.9"><tspan x="2385">http2</tspan><tspan x="2385" dy="12">(*Framer)</tspan><tspan x="2385" dy="12">readMetaFrame</tspan><tspan x="2385" dy="12">0 of 0.09s (2.66%)</tspan></text></g>
<g class="nd" id="n-bufioRead"><rect class="k08" x="1881" y="1864" width="119" height="58"/><text class="t0" y="1878.4"><tspan x="1940.5">bufio</tspan><tspan x="1940.5" dy="12">(*Reader)</tspan><tspan x="1940.5" dy="12">Read</tspan><tspan x="1940.5" dy="12">0 of 0.08s (2.37%)</tspan></text></g>
<g class="nd" id="n-parseFieldLiteral"><rect class="k07" x="2185" y="1864" width="119" height="58"/><text class="t0" y="1878.4"><tspan x="2244.5">hpack</tspan><tspan x="2244.5" dy="12">(*Decoder)</tspan><tspan x="2244.5" dy="12">parseFieldLiteral</tspan><tspan x="2244.5" dy="12">0 of 0.07s (2.07%)</tspan></text></g>
<g class="nd" id="n-mapaccess1"><rect class="k02" x="1987" y="2033" width="154" height="55"/><text class="t1" y="2050.1"><tspan x="2064">runtime</tspan><tspan x="2064" dy="14.6">mapaccess1_faststr</tspan><tspan x="2064" dy="14.6">0.02s (0.59%)</tspan></text></g>
<g class="nd" id="n-addEntry"><rect class="k04" x="2165" y="2018" width="160" height="85"/><text class="t1" y="2035.5"><tspan x="2245">hpack</tspan><tspan x="2245" dy="14.6">(*headerFieldTable)</tspan><tspan x="2245" dy="14.6">addEntry</tspan><tspan x="2245" dy="14.6">0.01s (0.3%)</tspan><tspan x="2245" dy="14.6">of 0.04s (1.18%)</tspan></text></g>
<g class="nd" id="n-mallocgc"><rect class="k20" x="2421" y="2023" width="144" height="75"/><text class="t3" y="2041"><tspan x="2493">runtime</tspan><tspan x="2493" dy="16.1">mallocgc</tspan><tspan x="2493" dy="16.1">0.04s (1.18%)</tspan><tspan x="2493" dy="16.1">of 0.20s (5.92%)</tspan></text></g>
<g class="nd" id="n-mapassign"><rect class="k03" x="2073" y="2193" width="130" height="69"/><text class="t1" y="2209.8"><tspan x="2138">runtime</tspan><tspan x="2138" dy="14.6">mapassign</tspan><tspan x="2138" dy="14.6">0.02s (0.59%)</tspan><tspan x="2138" dy="14.6">of 0.03s (0.89%)</tspan></text></g>
<g class="nd" id="n-memclr"><rect class="k02" x="2227" y="2200" width="186" height="55"/><text class="t1" y="2217.1"><tspan x="2320">runtime</tspan><tspan x="2320" dy="14.6">memclrNoHeapPointers</tspan><tspan x="2320" dy="14.6">0.02s (0.59%)</tspan></text></g>
<g class="nd" id="n-nextFreeFast"><rect class="k02" x="2437" y="2200" width="112" height="55"/><text class="t1" y="2217.1"><tspan x="2493">runtime</tspan><tspan x="2493" dy="14.6">nextFreeFast</tspan><tspan x="2493" dy="14.6">0.02s (0.59%)</tspan></text></g>
<g class="nd" id="n-heapBitsSetType"><rect class="k06" x="2573" y="2193" width="139" height="69"/><text class="t1" y="2209.8"><tspan x="2642.5">runtime</tspan><tspan x="2642.5" dy="14.6">heapBitsSetType</tspan><tspan x="2642.5" dy="14.6">0.02s (0.59%)</tspan><tspan x="2642.5" dy="14.6">of 0.06s (1.78%)</tspan></text></g>
<g class="nd" id="n-systemstack"><rect class="k14" x="2736" y="2193" width="130" height="69"/><text class="t1" y="2209.8"><tspan x="2801">runtime</tspan><tspan x="2801" dy="14.6">systemstack</tspan><tspan x="2801" dy="14.6">0.01s (0.3%)</tspan><tspan x="2801" dy="14.6">of 0.14s (4.14%)</tspan></text></g>
<g class="nd" id="n-gcBgMarkWorker"><rect class="k07" x="2742" y="2037" width="118" height="47"/><text class="t0" y="2051.9"><tspan x="2801">runtime</tspan><tspan x="2801" dy="12">gcBgMarkWorker</tspan><tspan x="2801" dy="12">0 of 0.07s (2.07%)</tspan></text></g>
<g class="nd" id="n-writeHeapBits"><rect class="k03" x="2577" y="2353" width="132" height="74"/><text class="t3" y="2370.5"><tspan x="2643">runtime</tspan><tspan x="2643" dy="16.1">writeHeapBits</tspan><tspan x="2643" dy="16.1">flush</tspan><tspan x="2643" dy="16.1">0.03s (0.89%)</tspan></text></g>
<g class="nd" id="n-gcDrain"><rect class="k07" x="2742" y="2366" width="118" height="49"/><text class="t0" y="2381.9"><tspan x="2801">runtime</tspan><tspan x="2801" dy="12">gcDrain</tspan><tspan x="2801" dy="12">0 of 0.07s (2.07%)</tspan></text></g>
<g class="nd" id="n-stackalloc"><rect class="k03" x="2884" y="2356" width="130" height="69"/><text class="t1" y="2372.8"><tspan x="2949">runtime</tspan><tspan x="2949" dy="14.6">stackalloc</tspan><tspan x="2949" dy="14.6">0.01s (0.3%)</tspan><tspan x="2949" dy="14.6">of 0.03s (0.89%)</tspan></text></g>
<g class="nd" id="n-scanobject"><rect class="k07" x="2729" y="2516" width="144" height="74"/><text class="t3" y="2533.5"><tspan x="2801">runtime</tspan><tspan x="2801" dy="16.1">scanobject</tspan><tspan x="2801" dy="16.1">0.04s (1.18%)</tspan><tspan x="2801" dy="16.1">of 0.07s (2.07%)</tspan></text></g>
<g class="nd" id="n-gentraceback"><rect class="k07" x="2993" y="2529" width="118" height="49"/><text class="t0" y="2544.9"><tspan x="3052">runtime</tspan><tspan x="3052" dy="12">gentraceback</tspan><tspan x="3052" dy="12">0 of 0.07s (2.07%)</tspan></text></g>
<g class="nd" id="n-pageIndexOf"><rect class="k02" x="2731" y="2713" width="112" height="55"/><text class="t1" y="2730.1"><tspan x="2787">runtime</tspan><tspan x="2787" dy="14.6">pageIndexOf</tspan><tspan x="2787" dy="14.6">0.02s (0.59%)</tspan></text></g>
<g class="nd" id="n-scanblock"><rect class="k02" x="2867" y="2713" width="112" height="55"/><text class="t1" y="2730.1"><tspan x="2923">runtime</tspan><tspan x="2923" dy="14.6">scanblock</tspan><tspan x="2923" dy="14.6">0.02s (0.59%)</tspan></text></g>
<g class="nd" id="n-getStackMap"><rect class="k04" x="3002" y="2699" width="129" height="84"/><text class="t1" y="2716"><tspan x="3066.5">runtime</tspan><tspan x="3066.5" dy="14.6">(*stkframe)</tspan><tspan x="3066.5" dy="14.6">getStackMap</tspan><tspan x="3066.5" dy="14.6">0.01s (0.3%)</tspan><tspan x="3066.5" dy="14.6">of 0.04s (1.18%)</tspan></text></g>
<g class="nd" id="n-pcvalue"><rect class="k06" x="2995" y="2851" width="144" height="74"/><text class="t3" y="2868.5"><tspan x="3067">runtime</tspan><tspan x="3067" dy="16.1">pcvalue</tspan><tspan x="3067" dy="16.1">0.03s (0.89%)</tspan><tspan x="3067" dy="16.1">of 0.06s (1.78%)</tspan></text></g>
<g class="nd" id="n-StartTimerD"><rect class="k26" x="919" y="1385" width="130" height="99"/><text class="t1" y="1402.2"><tspan x="984">fastime</tspan><tspan x="984" dy="14.6">(*fastime)</tspan><tspan x="984" dy="14.6">StartTimerD</tspan><tspan x="984" dy="14.6">func1</tspan><tspan x="984" dy="14.6">0.02s (0.59%)</tspan><tspan x="984" dy="14.6">of 0.26s (7.69%)</tspan></text></g>
<g class="nd" id="n-update"><rect class="k17" x="925" y="1564" width="118" height="59"/><text class="t0" y="1578.9"><tspan x="984">fastime</tspan><tspan x="984" dy="12">(*fastime)</tspan><tspan x="984" dy="12">update</tspan><tspan x="984" dy="12">0 of 0.17s (5.03%)</tspan></text></g>
<g class="nd" id="n-store"><rect class="k15" x="919" y="1703" width="130" height="85"/><text class="t1" y="1720.5"><tspan x="984">fastime</tspan><tspan x="984" dy="14.6">(*fastime)</tspan><tspan x="984" dy="14.6">store</tspan><tspan x="984" dy="14.6">0.01s (0.3%)</tspan><tspan x="984" dy="14.6">of 0.15s (4.44%)</tspan></text></g>
<g class="nd" id="n-appendFormat"><rect class="k06" x="783" y="1858" width="129" height="70"/><text class="t1" y="1875.3"><tspan x="847.5">Time</tspan><tspan x="847.5" dy="14.6">appendFormat</tspan><tspan x="847.5" dy="14.6">0.02s (0.59%)</tspan><tspan x="847.5" dy="14.6">of 0.06s (1.78%)</tspan></text></g>
<g class="nd" id="n-convTslice"><rect class="k02" x="936" y="1865" width="112" height="56"/><text class="t1" y="1882.6"><tspan x="992">runtime</tspan><tspan x="992" dy="14.6">convTslice</tspan><tspan x="992" dy="14.6">0.02s (0.59%)</tspan></text></g>
<g class="nd" id="n-mcall"><rect class="k123" x="1072" y="1721" width="127" height="49"/><text class="t0" y="1736.9"><tspan x="1135.5">runtime</tspan><tspan x="1135.5" dy="12">mcall</tspan><tspan x="1135.5" dy="12">0 of 1.23s (36.39%)</tspan></text></g>
<g class="nd" id="n-schedule"><rect class="k122" x="1072" y="1869" width="127" height="48"/><text class="t0" y="1884.4"><tspan x="1135.5">runtime</tspan><tspan x="1135.5" dy="12">schedule</tspan><tspan x="1135.5" dy="12">0 of 1.22s (36.09%)</tspan></text></g>
<g class="nd" id="n-NewServerTransport"><rect class="k094" x="1532" y="1564" width="134" height="59"/><text class="t0" y="1578.9"><tspan x="1599">transport</tspan><tspan x="1599" dy="12">NewServerTransport</tspan><tspan x="1599" dy="12">func2</tspan><tspan x="1599" dy="12">0 of 0.94s (27.81%)</tspan></text></g>
<g class="nd" id="n-loopyrun"><rect class="k094" x="1535" y="1716" width="127" height="60"/><text class="t0" y="1731.4"><tspan x="1598.5">transport</tspan><tspan x="1598.5" dy="12">(*loopyWriter)</tspan><tspan x="1598.5" dy="12">run</tspan><tspan x="1598.5" dy="12">0 of 0.94s (27.81%)</tspan></text></g>
<g class="nd" id="n-Flush"><rect class="k05" x="1686" y="1716" width="120" height="60"/><text class="t0" y="1731.4"><tspan x="1746">bufio</tspan><tspan x="1746" dy="12">(*Writer)</tspan><tspan x="1746" dy="12">Flush</tspan><tspan x="1746" dy="12">0 of 0.05s (1.48%)</tspan></text></g>
<g class="nd" id="n-handle"><rect class="k06" x="1223" y="1864" width="119" height="59"/><text class="t0" y="1878.9"><tspan x="1282.5">transport</tspan><tspan x="1282.5" dy="12">(*loopyWriter)</tspan><tspan x="1282.5" dy="12">handle</tspan><tspan x="1282.5" dy="12">0 of 0.06s (1.78%)</tspan></text></g>
<g class="nd" id="n-selectgo"><rect class="k08" x="1366" y="1855" width="145" height="76"/><text class="t3" y="1873.5"><tspan x="1438.5">runtime</tspan><tspan x="1438.5" dy="16.1">selectgo</tspan><tspan x="1438.5" dy="16.1">0.05s (1.48%)</tspan><tspan x="1438.5" dy="16.1">of 0.08s (2.37%)</tspan></text></g>
<g class="nd" id="n-netWrite"><rect class="k091" x="1535" y="1864" width="127" height="59"/><text class="t0" y="1878.9"><tspan x="1598.5">net</tspan><tspan x="1598.5" dy="12">(*conn)</tspan><tspan x="1598.5" dy="12">Write</tspan><tspan x="1598.5" dy="12">0 of 0.91s (26.92%)</tspan></text></g>
<g class="nd" id="n-findRunnable"><rect class="k122" x="1059" y="2023" width="153" height="75"/><text class="t3" y="2041"><tspan x="1135.5">runtime</tspan><tspan x="1135.5" dy="16.1">findRunnable</tspan><tspan x="1135.5" dy="16.1">0.05s (1.48%)</tspan><tspan x="1135.5" dy="16.1">of 1.19s (35.21%)</tspan></text></g>
<g class="nd" id="n-checkTimers"><rect class="k14" x="5" y="2191" width="144" height="74"/><text class="t3" y="2208.5"><tspan x="77">runtime</tspan><tspan x="77" dy="16.1">checkTimers</tspan><tspan x="77" dy="16.1">0.03s (0.89%)</tspan><tspan x="77" dy="16.1">of 0.14s (4.14%)</tspan></text></g>
<g class="nd" id="n-pidleget"><rect class="k04" x="173" y="2191" width="144" height="74"/><text class="t3" y="2208.5"><tspan x="245">runtime</tspan><tspan x="245" dy="16.1">pidleget</tspan><tspan x="245" dy="16.1">0.03s (0.89%)</tspan><tspan x="245" dy="16.1">of 0.04s (1.18%)</tspan></text></g>
<g class="nd" id="n-prepareForSweep"><rect class="k02" x="341" y="2193" width="144" height="70"/><text class="t1" y="2210.3"><tspan x="413">runtime</tspan><tspan x="413" dy="14.6">(*mcache)</tspan><tspan x="413" dy="14.6">prepareForSweep</tspan><tspan x="413" dy="14.6">0.02s (0.59%)</tspan></text></g>
<g class="nd" id="n-start"><rect class="k02" x="509" y="2193" width="133" height="70"/><text class="t1" y="2210.3"><tspan x="575.5">runtime</tspan><tspan x="575.5" dy="14.6">(*randomOrder)</tspan><tspan x="575.5" dy="14.6">start</tspan><tspan x="575.5" dy="14.6">0.02s (0.59%)</tspan></text></g>
<g class="nd" id="n-checkIdleGCNoP"><rect class="k02" x="666" y="2200" width="138" height="55"/><text class="t1" y="2217.1"><tspan x="735">runtime</tspan><tspan x="735" dy="14.6">checkIdleGCNoP</tspan><tspan x="735" dy="14.6">0.02s (0.59%)</tspan></text></g>
<g class="nd" id="n-unlock2"><rect class="k04" x="949" y="2199" width="126" height="59"/><text class="t3" y="2217"><tspan x="1012">runtime</tspan><tspan x="1012" dy="16.1">unlock2</tspan><tspan x="1012" dy="16.1">0.04s (1.18%)</tspan></text></g>
<g class="nd" id="n-netpoll"><rect class="k084" x="1099" y="2193" width="138" height="70"/><text class="t1" y="2210.3"><tspan x="1168">runtime</tspan><tspan x="1168" dy="14.6">netpoll</tspan><tspan x="1168" dy="14.6">0.01s (0.3%)</tspan><tspan x="1168" dy="14.6">of 0.84s (24.85%)</tspan></text></g>
<g class="nd" id="n-casgstatus"><rect class="k02" x="1268" y="2356" width="130" height="69"/><text class="t1" y="2372.8"><tspan x="1333">runtime</tspan><tspan x="1333" dy="14.6">casgstatus</tspan><tspan x="1333" dy="14.6">0.01s (0.3%)</tspan><tspan x="1333" dy="14.6">of 0.02s (0.59%)</tspan></text></g>
<g class="nd" id="n-runtimer"><rect class="k09" x="12" y="2356" width="130" height="69"/><text class="t1" y="2372.8"><tspan x="77">runtime</tspan><tspan x="77" dy="14.6">runtimer</tspan><tspan x="77" dy="14.6">0.01s (0.3%)</tspan><tspan x="77" dy="14.6">of 0.09s (2.66%)</tspan></text></g>
<g class="nd" id="n-nanotime"><rect class="k03" x="454" y="2361" width="126" height="59"/><text class="t3" y="2379"><tspan x="517">runtime</tspan><tspan x="517" dy="16.1">nanotime</tspan><tspan x="517" dy="16.1">0.03s (0.89%)</tspan></text></g>
<g class="nd" id="n-EpollWait"><rect class="k083" x="1091" y="2353" width="154" height="75"/><text class="t3" y="2371"><tspan x="1168">syscall</tspan><tspan x="1168" dy="16.1">EpollWait</tspan><tspan x="1168" dy="16.1">0.03s (0.89%)</tspan><tspan x="1168" dy="16.1">of 0.83s (24.56%)</tspan></text></g>
<g class="nd" id="n-runOneTimer"><rect class="k08" x="12" y="2518" width="130" height="70"/><text class="t1" y="2535.3"><tspan x="77">runtime</tspan><tspan x="77" dy="14.6">runOneTimer</tspan><tspan x="77" dy="14.6">0.02s (0.59%)</tspan><tspan x="77" dy="14.6">of 0.08s (2.37%)</tspan></text></g>
<g class="nd" id="n-Syscall6"><rect class="k174" x="1146" y="2496" width="262" height="115"/><text class="tb" y="2526"><tspan x="1277">syscall</tspan><tspan x="1277" dy="34">Syscall6</tspan><tspan x="1277" dy="34">1.74s (51.48%)</tspan></text></g>
<g class="nd" id="n-poll"><rect class="k096" x="1535" y="2037" width="127" height="47"/><text class="t0" y="2051.9"><tspan x="1598.5">poll</tspan><tspan x="1598.5" dy="12">ignoringEINTRIO</tspan><tspan x="1598.5" dy="12">0 of 0.96s (28.40%)</tspan></text></g>
<g class="nd" id="n-Syscall"><rect class="k097" x="1535" y="2204" width="127" height="48"/><text class="t0" y="2219.4"><tspan x="1598.5">syscall</tspan><tspan x="1598.5" dy="12">Syscall</tspan><tspan x="1598.5" dy="12">0 of 0.97s (28.70%)</tspan></text></g>
<g class="nd" id="n-RawSyscall6"><rect class="k096" x="1530" y="2356" width="137" height="69"/><text class="t1" y="2372.8"><tspan x="1598.5">syscall</tspan><tspan x="1598.5" dy="14.6">RawSyscall6</tspan><tspan x="1598.5" dy="14.6">0.01s (0.3%)</tspan><tspan x="1598.5" dy="14.6">of 0.95s (28.11%)</tspan></text></g>
<g class="nd" id="n-memmove"><rect class="k02" x="1696" y="2033" width="112" height="55"/><text class="t1" y="2050.1"><tspan x="1752">runtime</tspan><tspan x="1752" dy="14.6">memmove</tspan><tspan x="1752" dy="14.6">0.02s (0.59%)</tspan></text></g>
<g class="nd" id="n-sendTime"><rect class="k06" x="863" y="2705" width="128" height="74"/><text class="t1" y="2724.3"><tspan x="927">time</tspan><tspan x="927" dy="14.6">sendTime</tspan><tspan x="927" dy="14.6">0.01s (0.3%)</tspan><tspan x="927" dy="14.6">of 0.06s (1.78%)</tspan></text></g>
<g class="nd" id="n-timeNow"><rect class="k04" x="1337" y="2857" width="122" height="59"/><text class="t3" y="2875"><tspan x="1398">time</tspan><tspan x="1398" dy="16.1">Now</tspan><tspan x="1398" dy="16.1">0.04s (1.18%)</tspan></text></g>
<g class="nd" id="n-selectnbsend"><rect class="k03" x="1562" y="2852" width="131" height="72"/><text class="t1" y="2870.3"><tspan x="1627.5">runtime</tspan><tspan x="1627.5" dy="14.6">selectnbsend</tspan><tspan x="1627.5" dy="14.6">0.01s (0.3%)</tspan><tspan x="1627.5" dy="14.6">of 0.03s (0.89%)</tspan></text></g>
</g>
</svg>
